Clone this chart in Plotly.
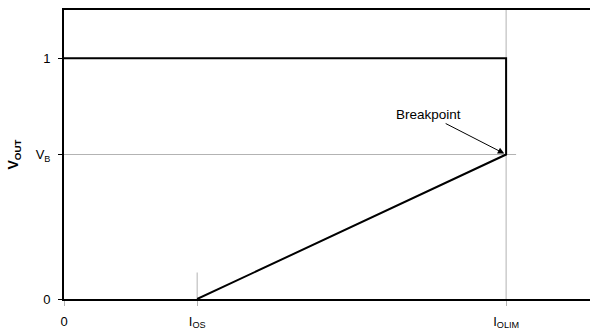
import plotly.graph_objects as go

# transfer curve corners (x in units of I_OS, y normalised to 1)
i_os = 1.0
i_olim = 3.32
v_b = 0.6
x_max = 3.95
y_max = 1.2

curve_x = [0, i_olim, i_olim, i_os]
curve_y = [1, 1, v_b, 0]

x_tickvals = [0, i_os, i_olim]
x_ticktext = ["0", "I<sub>OS</sub>", "I<sub>OLIM</sub>"]
y_tickvals = [0, v_b, 1]
y_ticktext = ["0", "V<sub>B</sub>", "1"]

grey = "#b3b3b3"

fig = go.Figure()

# grey guide lines
fig.add_trace(go.Scatter(x=[0, i_olim + 0.075], y=[v_b, v_b], mode="lines",
                         line=dict(color=grey, width=1), hoverinfo="skip"))
fig.add_trace(go.Scatter(x=[i_olim, i_olim], y=[0, y_max], mode="lines",
                         line=dict(color=grey, width=1), hoverinfo="skip"))
fig.add_trace(go.Scatter(x=[i_os, i_os], y=[0, 0.11], mode="lines",
                         line=dict(color=grey, width=1), hoverinfo="skip"))

fig.add_trace(go.Scatter(x=curve_x, y=curve_y, mode="lines",
                         line=dict(color="black", width=2), hoverinfo="skip"))

fig.add_annotation(x=i_olim, y=v_b, text="Breakpoint", showarrow=True,
                   arrowhead=2, arrowsize=1.3, arrowwidth=1, arrowcolor="black",
                   ax=-78, ay=-40, standoff=2,
                   font=dict(size=13.5, color="black"))

fig.update_layout(
    width=590, height=329,
    margin=dict(l=64, r=0, t=10, b=30),
    paper_bgcolor="white", plot_bgcolor="white",
    showlegend=False,
    font=dict(family="Liberation Sans, Arial, sans-serif", size=13, color="black"),
)
fig.update_xaxes(range=[0, x_max], tickvals=x_tickvals, ticktext=x_ticktext,
                 showgrid=False, zeroline=False, showline=True, linecolor="black",
                 linewidth=2, mirror=True, ticks="outside", ticklen=5,
                 tickcolor=grey, tickwidth=1, ticklabelstandoff=4)
fig.update_yaxes(range=[0, y_max], tickvals=y_tickvals, ticktext=y_ticktext,
                 showgrid=False, zeroline=False, showline=True, linecolor="black",
                 linewidth=2, ticks="outside", ticklen=4, tickcolor="black",
                 tickwidth=1, ticklabelstandoff=5,
                 title=dict(text="<b>V<sub>OUT</sub></b>", font=dict(size=14),
                            standoff=14))

fig.write_html("out.html", post_script="document.body.style.margin='0';",
               config={"displayModeBar": False})
